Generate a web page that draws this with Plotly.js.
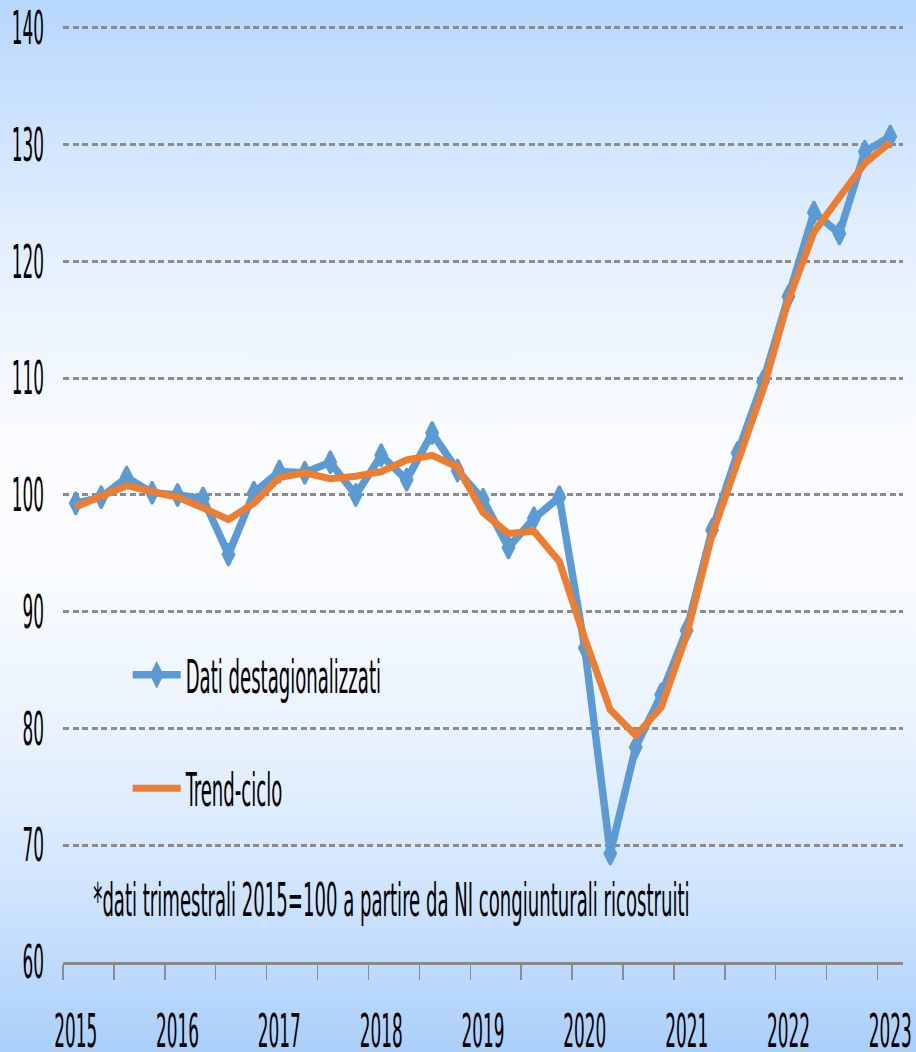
<!DOCTYPE html>
<html>
<head>
<meta charset="utf-8">
<script src="https://cdn.plot.ly/plotly-3.0.1.min.js"></script>
<style>
html, body { margin: 0; padding: 0; overflow: hidden; }
body {
  width: 916px; height: 1052px;
  background: linear-gradient(to bottom, #b7d7fd 0%, #e2eefe 22%, #fafcff 42%, #fafcff 54%, #e6f1fe 72%, #cfe4fd 85%, #aacffa 100%);
}
#chart { width: 916px; height: 1052px; }
</style>
</head>
<body>
<div id="chart"></div>
<script>
// Quarterly index, 2015=100 (2015Q1 .. 2023Q1)
const quarters = [
  "2015T1","2015T2","2015T3","2015T4",
  "2016T1","2016T2","2016T3","2016T4",
  "2017T1","2017T2","2017T3","2017T4",
  "2018T1","2018T2","2018T3","2018T4",
  "2019T1","2019T2","2019T3","2019T4",
  "2020T1","2020T2","2020T3","2020T4",
  "2021T1","2021T2","2021T3","2021T4",
  "2022T1","2022T2","2022T3","2022T4",
  "2023T1"
];
const datiDestagionalizzati = [
  99.3, 99.8, 101.5, 100.2,
  100.0, 99.7, 94.9, 100.2,
  102.0, 101.9, 102.8, 100.0,
  103.4, 101.3, 105.3, 102.1,
  99.6, 95.5, 98.0, 99.8,
  86.9, 69.3, 78.4, 82.9,
  88.4, 97.0, 103.6, 109.7,
  117.0, 124.2, 122.4, 129.4,
  130.7
];
const trendCiclo = [
  99.0, 99.9, 100.8, 100.3,
  99.8, 98.9, 97.9, 99.3,
  101.5, 101.9, 101.4, 101.6,
  102.0, 103.0, 103.4, 102.4,
  98.5, 96.7, 96.9, 94.3,
  87.7, 81.6, 79.4, 81.8,
  88.0, 96.6, 103.0, 109.0,
  116.7, 122.5, 125.5, 128.4,
  130.2
];
const yearLabels = ["2015","2016","2017","2018","2019","2020","2021","2022","2023"];
const yTicks = [60, 70, 80, 90, 100, 110, 120, 130, 140];
const seriesNames = ["Dati destagionalizzati", "Trend-ciclo"];
const noteText = "*dati trimestrali 2015=100 a partire da NI congiunturali ricostruiti";

const xIdx = quarters.map((q, i) => i);
const yearTickVals = yearLabels.map(y => quarters.indexOf(y + "T1"));

const FONT = "'Liberation Sans Narrow', 'DejaVu Sans Condensed', 'Liberation Sans', Arial, sans-serif";

const traces = [
  {
    x: xIdx, y: datiDestagionalizzati, name: seriesNames[0],
    type: "scatter", mode: "lines+markers",
    line: { color: "#5b9bd5", width: 7.5 },
    marker: { symbol: "diamond-tall", size: 16, color: "#5b9bd5", line: { color: "#5b9bd5", width: 2.5 } },
    legend: "legend"
  },
  {
    x: xIdx, y: trendCiclo, name: seriesNames[1],
    type: "scatter", mode: "lines",
    line: { color: "#ed7d31", width: 7 },
    legend: "legend2"
  }
];

const layout = {
  width: 916, height: 1052,
  margin: { l: 63, r: 13, t: 24, b: 90 },
  paper_bgcolor: "rgba(0,0,0,0)",
  plot_bgcolor: "rgba(0,0,0,0)",
  font: { family: FONT, size: 46, color: "#000" },
  xaxis: {
    range: [-0.5, quarters.length - 0.5],
    tickmode: "array", tickvals: yearTickVals, ticktext: yearLabels,
    tickangle: 0, ticklabeloverflow: "allow",
    ticks: "", showgrid: false, zeroline: false,
    showline: true, linecolor: "#898989", linewidth: 3,
    ticklabelstandoff: 27,
    tickfont: { family: FONT, size: 46, color: "#000" },
    minor: { ticks: "outside", tickmode: "linear", tick0: -0.5, dtick: 2, ticklen: 15, tickwidth: 1.5, tickcolor: "#8c8c8c", showgrid: false }
  },
  yaxis: {
    range: [60, 140.34], tickmode: "array", tickvals: yTicks,
    ticks: "", showline: false, zeroline: false,
    showgrid: true, gridcolor: "#8c8c8c", gridwidth: 3, griddash: "6px,3.5px",
    ticklabelstandoff: 18, ticklabeloverflow: "allow",
    tickfont: { family: FONT, size: 46, color: "#000" }
  },
  legend: {
    x: 0.077, y: 0.306, xanchor: "left", yanchor: "middle",
    bgcolor: "rgba(0,0,0,0)", font: { family: FONT, size: 46, color: "#000" },
    itemwidth: 48
  },
  legend2: {
    x: 0.077, y: 0.185, xanchor: "left", yanchor: "middle",
    bgcolor: "rgba(0,0,0,0)", font: { family: FONT, size: 46, color: "#000" },
    itemwidth: 48
  },
  showlegend: true,
  annotations: [{
    text: noteText, xref: "paper", yref: "paper",
    x: 0.391, y: 0.066, xanchor: "center", yanchor: "middle",
    showarrow: false, font: { family: FONT, size: 46, color: "#000" }
  }]
};

const gd = document.getElementById("chart");
Plotly.newPlot(gd, traces, layout, { displayModeBar: false, staticPlot: true }).then(function () {
  // Condense all text horizontally to mimic the narrow original typeface
  const ref = gd.querySelector(".xtick text");
  const w = ref ? ref.getBBox().width : 0;
  const s = w > 0 ? 43 / w : 0.5;
  gd.querySelectorAll("svg text").forEach(function (t) {
    const isTick = !!t.closest(".xtick, .ytick");
    const k = isTick ? s : s * 1.07;
    const x = parseFloat(t.getAttribute("x")) || 0;
    const tr = t.getAttribute("transform") || "";
    t.setAttribute("transform", tr + " translate(" + x + ",0) scale(" + k + ",1) translate(" + (-x) + ",0)");
  });
});
</script>
</body>
</html>
